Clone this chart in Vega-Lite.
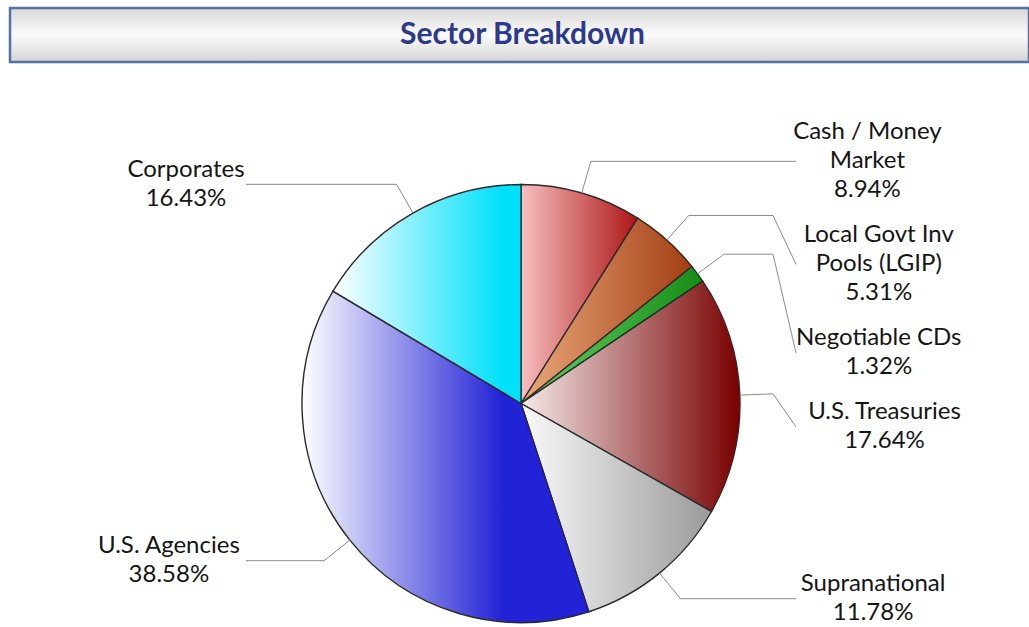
{
  "$schema": "https://vega.github.io/schema/vega-lite/v6.json",
  "padding": {"left": 8, "top": 6, "right": 0, "bottom": 0},
  "spacing": 0,
  "background": "white",
  "config": {"view": {"stroke": null}, "font": "Lato"},
  "vconcat": [
    {
      "width": 1019,
      "height": 54,
      "view": {
        "stroke": "#4F72A8",
        "strokeWidth": 2.5,
        "fill": {"gradient": "linear", "x1": 0, "y1": 0, "x2": 0, "y2": 1,
          "stops": [{"offset": 0, "color": "#D8D8D8"}, {"offset": 0.5, "color": "#FBFBFB"}, {"offset": 1, "color": "#D4D4D4"}]}
      },
      "data": {"values": [{"title": "Sector Breakdown"}]},
      "mark": {"type": "text", "font": "Lato", "fontSize": 30, "fontWeight": "bold", "color": "#2B3990", "baseline": "middle", "dx": 3},
      "encoding": {"text": {"field": "title", "type": "nominal"}}
    },
    {
      "width": 1015,
      "height": 560,
      "data": {"values": [
        {"sector": "Cash / Money\nMarket", "pct": 8.94, "order": 1},
        {"sector": "Local Govt Inv\nPools (LGIP)", "pct": 5.31, "order": 2},
        {"sector": "Negotiable CDs", "pct": 1.32, "order": 3},
        {"sector": "U.S. Treasuries", "pct": 17.64, "order": 4},
        {"sector": "Supranational", "pct": 11.78, "order": 5},
        {"sector": "U.S. Agencies", "pct": 38.58, "order": 6},
        {"sector": "Corporates", "pct": 16.43, "order": 7}
      ]},
      "transform": [
        {"stack": "pct", "groupby": [], "as": ["v0", "v1"], "sort": [{"field": "order", "order": "ascending"}]},
        {"calculate": "(datum.v0 + datum.v1) * PI / 100", "as": "mid"},
        {"calculate": "datum.mid < PI ? 1 : -1", "as": "side"},
        {"calculate": "219 * sin(datum.mid)", "as": "ex"},
        {"calculate": "219 * cos(datum.mid)", "as": "ey"},
        {"calculate": "252 * sin(datum.mid)", "as": "bx"},
        {"calculate": "252 * cos(datum.mid)", "as": "by"},
        {"calculate": "datum.side * 252", "as": "kx"},
        {"calculate": "datum.side * 275", "as": "ax"},
        {"calculate": "datum.sector + '\\n' + format(datum.pct, '.2f') + '%'", "as": "label"},
        {"calculate": "length(split(datum.label, '\\n'))", "as": "nl"},
        {"calculate": "datum.nl * 14.5", "as": "half"},
        {"window": [{"op": "lag", "field": "half", "as": "prevHalf"}], "groupby": ["side"], "sort": [{"field": "by", "order": "descending"}]},
        {"calculate": "datum.prevHalf == null ? 0 : datum.prevHalf + datum.half + 16", "as": "d"},
        {"window": [{"op": "sum", "field": "d", "as": "S"}], "groupby": ["side"], "sort": [{"field": "by", "order": "descending"}], "frame": [null, 0]},
        {"calculate": "datum.by + datum.S", "as": "t"},
        {"window": [{"op": "min", "field": "t", "as": "m"}], "groupby": ["side"], "sort": [{"field": "by", "order": "descending"}], "frame": [null, 0]},
        {"calculate": "datum.m - datum.S", "as": "ly"},
        {"calculate": "datum.ly + (datum.nl - 1) * 14.5", "as": "ty"},
        {"calculate": "max(length(split(datum.sector, '\\n')[0]), length(split(datum.sector, '\\n').length > 1 ? split(datum.sector, '\\n')[1] : ''))", "as": "maxc"},
        {"calculate": "datum.side * (278 + datum.maxc * 5.7)", "as": "tx"}
      ],
      "layer": [
        {
          "transform": [{"filter": "datum.order == 1"}],
          "mark": {"type": "arc", "outerRadius": 219, "stroke": "#2a2a2a", "strokeWidth": 1.4,
            "fill": {"gradient": "linear", "x1": 0, "y1": 0, "x2": 1, "y2": 0, "stops": [{"offset": 0, "color": "#F8BFBF"}, {"offset": 1, "color": "#AC1616"}]}},
          "encoding": {
            "theta": {"field": "v0", "type": "quantitative", "scale": {"domain": [0, 100], "range": [0, 6.283185307179586]}},
            "theta2": {"field": "v1"},
            "x": {"datum": 0, "type": "quantitative", "scale": {"domain": [-511, 504], "nice": false, "zero": false}, "axis": null},
            "y": {"datum": 0, "type": "quantitative", "scale": {"domain": [-220.5, 339.5], "nice": false, "zero": false}, "axis": null}
          }
        },
        {
          "transform": [{"filter": "datum.order == 2"}],
          "mark": {"type": "arc", "outerRadius": 219, "stroke": "#2a2a2a", "strokeWidth": 1.4,
            "fill": {"gradient": "linear", "x1": 0, "y1": 0, "x2": 1, "y2": 0, "stops": [{"offset": 0, "color": "#EAA97A"}, {"offset": 1, "color": "#A23E14"}]}},
          "encoding": {
            "theta": {"field": "v0", "type": "quantitative", "scale": {"domain": [0, 100], "range": [0, 6.283185307179586]}},
            "theta2": {"field": "v1"},
            "x": {"datum": 0, "type": "quantitative", "scale": {"domain": [-511, 504], "nice": false, "zero": false}, "axis": null},
            "y": {"datum": 0, "type": "quantitative", "scale": {"domain": [-220.5, 339.5], "nice": false, "zero": false}, "axis": null}
          }
        },
        {
          "transform": [{"filter": "datum.order == 3"}],
          "mark": {"type": "arc", "outerRadius": 219, "stroke": "#2a2a2a", "strokeWidth": 1.4,
            "fill": {"gradient": "linear", "x1": 0, "y1": 0, "x2": 1, "y2": 0, "stops": [{"offset": 0, "color": "#63D163"}, {"offset": 1, "color": "#168C16"}]}},
          "encoding": {
            "theta": {"field": "v0", "type": "quantitative", "scale": {"domain": [0, 100], "range": [0, 6.283185307179586]}},
            "theta2": {"field": "v1"},
            "x": {"datum": 0, "type": "quantitative", "scale": {"domain": [-511, 504], "nice": false, "zero": false}, "axis": null},
            "y": {"datum": 0, "type": "quantitative", "scale": {"domain": [-220.5, 339.5], "nice": false, "zero": false}, "axis": null}
          }
        },
        {
          "transform": [{"filter": "datum.order == 4"}],
          "mark": {"type": "arc", "outerRadius": 219, "stroke": "#2a2a2a", "strokeWidth": 1.4,
            "fill": {"gradient": "linear", "x1": 0, "y1": 0, "x2": 1, "y2": 0, "stops": [{"offset": 0, "color": "#F5EAEA"}, {"offset": 1, "color": "#780000"}]}},
          "encoding": {
            "theta": {"field": "v0", "type": "quantitative", "scale": {"domain": [0, 100], "range": [0, 6.283185307179586]}},
            "theta2": {"field": "v1"},
            "x": {"datum": 0, "type": "quantitative", "scale": {"domain": [-511, 504], "nice": false, "zero": false}, "axis": null},
            "y": {"datum": 0, "type": "quantitative", "scale": {"domain": [-220.5, 339.5], "nice": false, "zero": false}, "axis": null}
          }
        },
        {
          "transform": [{"filter": "datum.order == 5"}],
          "mark": {"type": "arc", "outerRadius": 219, "stroke": "#2a2a2a", "strokeWidth": 1.4,
            "fill": {"gradient": "linear", "x1": 0, "y1": 0, "x2": 1, "y2": 0, "stops": [{"offset": 0, "color": "#FAFAFA"}, {"offset": 1, "color": "#9A9A9A"}]}},
          "encoding": {
            "theta": {"field": "v0", "type": "quantitative", "scale": {"domain": [0, 100], "range": [0, 6.283185307179586]}},
            "theta2": {"field": "v1"},
            "x": {"datum": 0, "type": "quantitative", "scale": {"domain": [-511, 504], "nice": false, "zero": false}, "axis": null},
            "y": {"datum": 0, "type": "quantitative", "scale": {"domain": [-220.5, 339.5], "nice": false, "zero": false}, "axis": null}
          }
        },
        {
          "transform": [{"filter": "datum.order == 6"}],
          "mark": {"type": "arc", "outerRadius": 219, "stroke": "#2a2a2a", "strokeWidth": 1.4,
            "fill": {"gradient": "linear", "x1": 0, "y1": 0, "x2": 1, "y2": 0, "stops": [{"offset": 0, "color": "#FFFFFF"}, {"offset": 0.7, "color": "#2222D6"}, {"offset": 1, "color": "#2222D6"}]}},
          "encoding": {
            "theta": {"field": "v0", "type": "quantitative", "scale": {"domain": [0, 100], "range": [0, 6.283185307179586]}},
            "theta2": {"field": "v1"},
            "x": {"datum": 0, "type": "quantitative", "scale": {"domain": [-511, 504], "nice": false, "zero": false}, "axis": null},
            "y": {"datum": 0, "type": "quantitative", "scale": {"domain": [-220.5, 339.5], "nice": false, "zero": false}, "axis": null}
          }
        },
        {
          "transform": [{"filter": "datum.order == 7"}],
          "mark": {"type": "arc", "outerRadius": 219, "stroke": "#2a2a2a", "strokeWidth": 1.4,
            "fill": {"gradient": "linear", "x1": 0, "y1": 0, "x2": 1, "y2": 0, "stops": [{"offset": 0, "color": "#FFFFFF"}, {"offset": 0.9, "color": "#00E0FA"}, {"offset": 1, "color": "#00E0FA"}]}},
          "encoding": {
            "theta": {"field": "v0", "type": "quantitative", "scale": {"domain": [0, 100], "range": [0, 6.283185307179586]}},
            "theta2": {"field": "v1"},
            "x": {"datum": 0, "type": "quantitative", "scale": {"domain": [-511, 504], "nice": false, "zero": false}, "axis": null},
            "y": {"datum": 0, "type": "quantitative", "scale": {"domain": [-220.5, 339.5], "nice": false, "zero": false}, "axis": null}
          }
        },
        {
          "mark": {"type": "rule", "stroke": "#8a8a8a", "strokeWidth": 1},
          "encoding": {
            "x": {"field": "ex", "type": "quantitative", "scale": {"domain": [-511, 504], "nice": false, "zero": false}, "axis": null},
            "y": {"field": "ey", "type": "quantitative", "scale": {"domain": [-220.5, 339.5], "nice": false, "zero": false}, "axis": null},
            "x2": {"field": "bx"},
            "y2": {"field": "by"}
          }
        },
        {
          "mark": {"type": "rule", "stroke": "#8a8a8a", "strokeWidth": 1},
          "encoding": {
            "x": {"field": "bx", "type": "quantitative", "scale": {"domain": [-511, 504], "nice": false, "zero": false}, "axis": null},
            "y": {"field": "by", "type": "quantitative", "scale": {"domain": [-220.5, 339.5], "nice": false, "zero": false}, "axis": null},
            "x2": {"field": "kx"},
            "y2": {"field": "by"}
          }
        },
        {
          "mark": {"type": "rule", "stroke": "#8a8a8a", "strokeWidth": 1},
          "encoding": {
            "x": {"field": "kx", "type": "quantitative", "scale": {"domain": [-511, 504], "nice": false, "zero": false}, "axis": null},
            "y": {"field": "by", "type": "quantitative", "scale": {"domain": [-220.5, 339.5], "nice": false, "zero": false}, "axis": null},
            "x2": {"field": "ax"},
            "y2": {"field": "ly"}
          }
        },
        {
          "mark": {"type": "text", "font": "Lato", "fontSize": 24, "lineHeight": 29, "lineBreak": "\n", "align": "center", "baseline": "middle", "color": "#151515"},
          "encoding": {
            "x": {"field": "tx", "type": "quantitative", "scale": {"domain": [-511, 504], "nice": false, "zero": false}, "axis": null},
            "y": {"field": "ty", "type": "quantitative", "scale": {"domain": [-220.5, 339.5], "nice": false, "zero": false}, "axis": null},
            "text": {"field": "label", "type": "nominal"}
          }
        }
      ]
    }
  ]
}
